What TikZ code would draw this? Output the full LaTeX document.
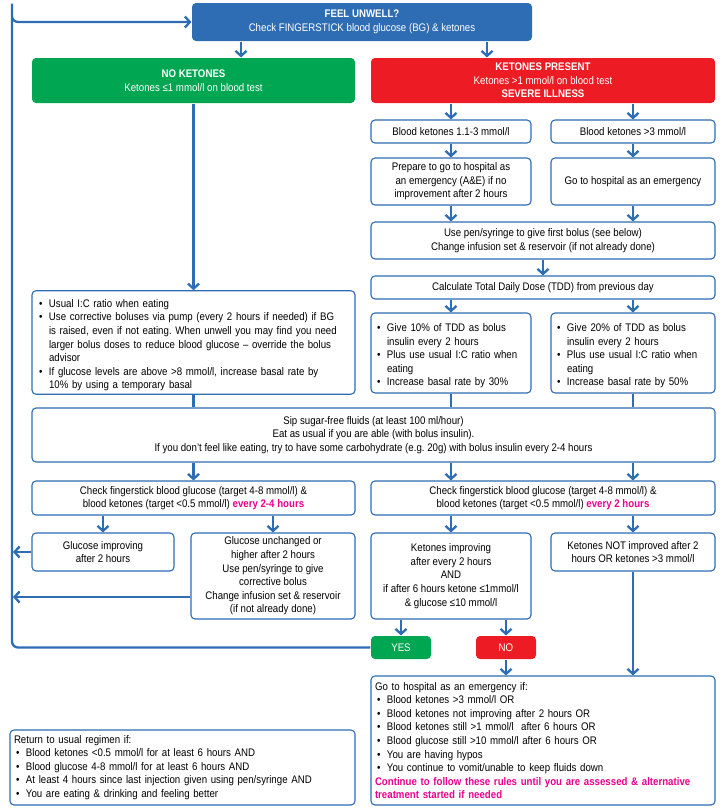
\documentclass[tikz,border=0pt]{standalone}
\usepackage{fontspec}
\setmainfont{Liberation Sans}[FakeStretch=0.88]
\usetikzlibrary{arrows.meta}
\definecolor{nhsblue}{RGB}{46,108,180}
\definecolor{nhsgreen}{RGB}{0,166,81}
\definecolor{nhsred}{RGB}{237,28,36}
\definecolor{nhspink}{RGB}{236,0,140}
\hyphenpenalty=10000
\exhyphenpenalty=10000
\frenchspacing
\newcommand{\bitem}[1]{\par\hangindent=12pt\hangafter=1\noindent\hbox to 12pt{\hskip2pt\textbullet\hfil}#1\par}
\newcommand{\hl}[1]{\textcolor{nhspink}{\textbf{#1}}}

\begin{document}
\begin{tikzpicture}[x=1pt, y=-1pt,
    box/.style={draw=nhsblue, line width=1.1pt, rounded corners=4pt, fill=white, align=center, inner sep=3pt, font=\fontsize{11}{13.6}\selectfont},
    listbox/.style={box, align=left},
    colbox/.style={box, draw=none, text=white},
    arrowstyle/.style={-{Straight Barb[length=5pt,width=11pt]}, line width=2.3pt, draw=nhsblue},
    linkstyle/.style={line width=2.3pt, draw=nhsblue}
]
    \useasboundingbox (0,0) rectangle (723,812);

    % top row
    \node[colbox, fill=nhsblue, minimum width=340pt, minimum height=38pt] (feel) at (362,22) {\textbf{FEEL UNWELL?}\\Check FINGERSTICK blood glucose (BG) \& ketones};
    \node[colbox, fill=nhsgreen, minimum width=323pt, minimum height=45pt] (noket) at (193.5,80.5) {\textbf{NO KETONES}\\Ketones ≤1 mmol/l on blood test};
    \node[colbox, fill=nhsred, minimum width=344pt, minimum height=45pt] (ketpres) at (543,80.5) {\textbf{KETONES PRESENT}\\Ketones >1 mmol/l on blood test\\\textbf{SEVERE ILLNESS}};

    % ketones present branch
    \node[box, minimum width=160pt, minimum height=23pt] (ketlow) at (451,131.5) {Blood ketones 1.1-3 mmol/l};
    \node[box, minimum width=164pt, minimum height=23pt] (kethigh) at (633,131.5) {Blood ketones >3 mmol/l};
    \node[box, minimum width=160pt, minimum height=47pt] (prepare) at (451,181.5) {Prepare to go to hospital as\\an emergency (A\&E) if no\\improvement after 2 hours};
    \node[box, minimum width=164pt, minimum height=47pt] (gohosp) at (633,181.5) {Go to hospital as an emergency};
    \node[box, minimum width=344pt, minimum height=37pt] (pen) at (543,240.5) {Use pen/syringe to give first bolus (see below)\\Change infusion set \& reservoir (if not already done)};
    \node[box, minimum width=344pt, minimum height=23pt] (tdd) at (543,287.5) {Calculate Total Daily Dose (TDD) from previous day};
    \node[listbox, minimum width=160pt, minimum height=80pt, text width=152pt] (give10) at (451,353) {\bitem{Give 10\% of TDD as bolus insulin every 2 hours}\bitem{Plus use usual I:C ratio when eating}\bitem{Increase basal rate by 30\%}};
    \node[listbox, minimum width=164pt, minimum height=80pt, text width=156pt] (give20) at (633,353) {\bitem{Give 20\% of TDD as bolus insulin every 2 hours}\bitem{Plus use usual I:C ratio when eating}\bitem{Increase basal rate by 50\%}};

    % no ketones branch
    \node[listbox, minimum width=323pt, minimum height=101pt, text width=313pt] (usual) at (193.5,342.5) {\bitem{Usual I:C ratio when eating}\bitem{Use corrective boluses via pump (every 2 hours if needed) if BG is raised, even if not eating. When unwell you may find you need larger bolus doses to reduce blood glucose – override the bolus advisor}\bitem{If glucose levels are above >8 mmol/l, increase basal rate by\newline 10\% by using a temporary basal}};

    % common part
    \node[box, minimum width=683pt, minimum height=54pt] (sip) at (373.5,435) {Sip sugar-free fluids (at least 100 ml/hour)\\Eat as usual if you are able (with bolus insulin).\\If you don’t feel like eating, try to have some carbohydrate (e.g. 20g) with bolus insulin every 2-4 hours};
    \node[box, minimum width=323pt, minimum height=34pt] (checkl) at (193.5,498) {Check fingerstick blood glucose (target 4-8 mmol/l) \&\\blood ketones (target <0.5 mmol/l) \hl{every 2-4 hours}};
    \node[box, minimum width=344pt, minimum height=34pt] (checkr) at (543,498) {Check fingerstick blood glucose (target 4-8 mmol/l) \&\\blood ketones (target <0.5 mmol/l) \hl{every 2 hours}};

    \node[box, minimum width=142pt, minimum height=38pt] (gluimp) at (103,552) {Glucose improving\\after 2 hours};
    \node[box, minimum width=164pt, minimum height=86pt] (glusame) at (273,576) {Glucose unchanged or\\higher after 2 hours\\Use pen/syringe to give\\corrective bolus\\Change infusion set \& reservoir\\(if not already done)};
    \node[box, minimum width=160pt, minimum height=86pt] (ketimp) at (451,576) {Ketones improving\\after every 2 hours\\AND\\if after 6 hours ketone ≤1mmol/l\\\& glucose ≤10 mmol/l};
    \node[box, minimum width=164pt, minimum height=38pt] (ketnot) at (633,552) {Ketones NOT improved after 2\\hours OR ketones >3 mmol/l};
    \node[colbox, fill=nhsgreen, minimum width=60pt, minimum height=23pt] (yes) at (401,647.5) {YES};
    \node[colbox, fill=nhsred, minimum width=60pt, minimum height=23pt] (no) at (506,647.5) {NO};

    % bottom boxes
    \node[listbox, minimum width=344pt, minimum height=129pt, text width=336pt] (hosp) at (543,740.5) {Go to hospital as an emergency if:\bitem{Blood ketones >3 mmol/l OR}\bitem{Blood ketones not improving after 2 hours OR}\bitem{Blood ketones still >1 mmol/l~ after 6 hours OR}\bitem{Blood glucose still >10 mmol/l after 6 hours OR}\bitem{You are having hypos}\bitem{You continue to vomit/unable to keep fluids down}\hl{Continue to follow these rules until you are assessed \& alternative treatment started if needed}};
    \node[listbox, minimum width=345pt, minimum height=75pt, text width=337pt] (back) at (182.5,767.5) {Return to usual regimen if:\bitem{Blood ketones <0.5 mmol/l for at least 6 hours AND}\bitem{Blood glucose 4-8 mmol/l for at least 6 hours AND}\bitem{At least 4 hours since last injection given using pen/syringe AND}\bitem{You are eating \& drinking and feeling better}};

    \coordinate (loopx) at (12,0);

    % connectors
    \draw[arrowstyle] (feel.south -| 241,0) -- (noket.north -| 241,0);
    \draw[arrowstyle] (feel.south -| 487,0) -- (ketpres.north -| 487,0);
    \draw[arrowstyle] (ketpres.south -| ketlow) -- (ketlow);
    \draw[arrowstyle] (ketpres.south -| kethigh) -- (kethigh);
    \draw[arrowstyle] (ketlow) -- (prepare);
    \draw[arrowstyle] (kethigh) -- (gohosp);
    \draw[arrowstyle] (prepare.south) -- (pen.north -| prepare);
    \draw[arrowstyle] (gohosp.south) -- (pen.north -| gohosp);
    \draw[arrowstyle] (pen) -- (tdd);
    \draw[arrowstyle] (tdd.south -| give10) -- (give10);
    \draw[arrowstyle] (tdd.south -| give20) -- (give20);
    \draw[arrowstyle] (noket) -- (usual);
    \draw[linkstyle] (usual) -- (sip.north -| usual);
    \draw[linkstyle] (give10) -- (sip.north -| give10);
    \draw[linkstyle] (give20) -- (sip.north -| give20);
    \draw[arrowstyle] (sip.south -| checkl) -- (checkl);
    \draw[arrowstyle] (sip.south -| give10) -- (checkr.north -| give10);
    \draw[arrowstyle] (sip.south -| give20) -- (checkr.north -| give20);
    \draw[arrowstyle] (checkl.south -| gluimp) -- (gluimp);
    \draw[arrowstyle] (checkl.south -| glusame) -- (glusame);
    \draw[arrowstyle] (checkr.south -| ketimp) -- (ketimp);
    \draw[arrowstyle] (checkr.south -| ketnot) -- (ketnot);
    \draw[arrowstyle] (ketimp.south -| yes) -- (yes);
    \draw[arrowstyle] (ketimp.south -| no) -- (no);
    \draw[arrowstyle] (no) -- (hosp.north -| no);
    \draw[arrowstyle] (ketnot) -- (hosp.north -| ketnot);
    \draw[arrowstyle, rounded corners=6pt] (yes.west) -| (loopx) |- (feel.west);
    \draw[arrowstyle, shorten >=1pt] (gluimp.west) -- (gluimp.west -| loopx);
    \draw[arrowstyle, shorten >=1pt] ([yshift=-21pt]glusame.west) -- ([yshift=-21pt]glusame.west -| loopx);
\end{tikzpicture}
\end{document}
